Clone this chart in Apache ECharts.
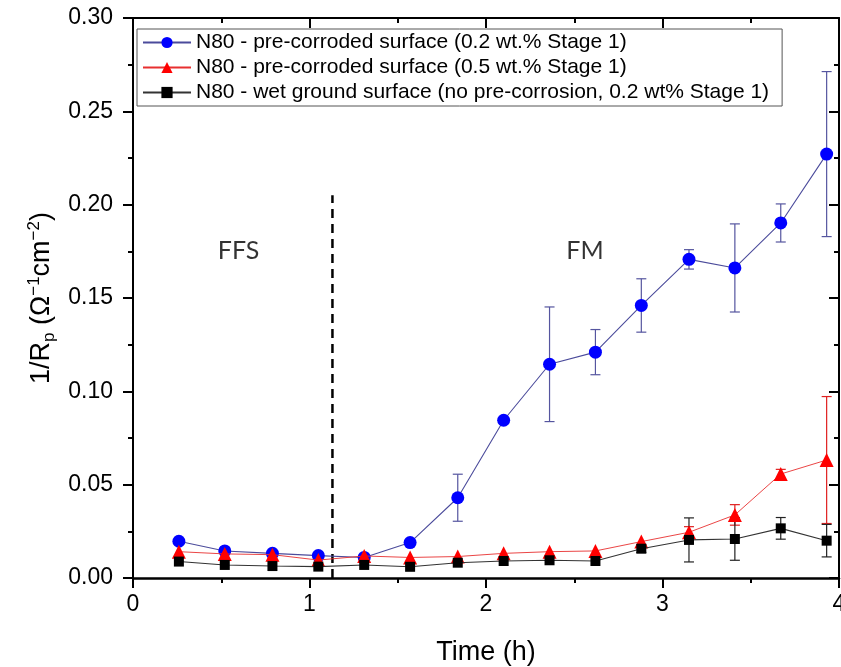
<!DOCTYPE html>
<html>
<head>
<meta charset="utf-8">
<script src="https://cdn.jsdelivr.net/npm/echarts@6/dist/echarts.min.js"></script>
<style>
  html, body { margin: 0; padding: 0; background: #fff; overflow: hidden; }
  #chart { width: 841px; height: 667px; }
</style>
</head>
<body>
<div id="chart"></div>
<script>
// Sampling times (h)
const timeH = [0.26, 0.52, 0.79, 1.05, 1.31, 1.57, 1.84, 2.10, 2.36, 2.62, 2.88, 3.15, 3.41, 3.67, 3.93];

// 1/Rp (ohm^-1 cm^-2) and standard deviations
const precorr02 = [0.0197, 0.0145, 0.0132, 0.0120, 0.0110, 0.0190, 0.0430, 0.0845, 0.1145, 0.1210, 0.1460, 0.1707, 0.1661, 0.1902, 0.2271];
const precorr02Err = [0, 0, 0, 0, 0, 0, 0.0126, 0, 0.0307, 0.0121, 0.0143, 0.0052, 0.0236, 0.0102, 0.0442];

const precorr05 = [0.0141, 0.0129, 0.0125, 0.0096, 0.0118, 0.0110, 0.0115, 0.0132, 0.0141, 0.0145, 0.0195, 0.0245, 0.0338, 0.0557, 0.0632];
const precorr05Err = [0, 0, 0, 0, 0, 0, 0, 0, 0, 0, 0, 0.0030, 0.0055, 0.0025, 0.0340];

const wetGround = [0.0088, 0.0070, 0.0064, 0.0061, 0.0070, 0.0060, 0.0082, 0.0091, 0.0095, 0.0091, 0.0157, 0.0204, 0.0209, 0.0266, 0.0200];
const wetGroundErr = [0, 0, 0, 0, 0, 0, 0, 0, 0, 0, 0.0020, 0.0118, 0.0114, 0.0058, 0.0087];

const seriesNames = [
  'N80 - pre-corroded surface (0.2 wt.% Stage 1)',
  'N80 - pre-corroded surface (0.5 wt.% Stage 1)',
  'N80 - wet ground surface (no pre-corrosion, 0.2 wt% Stage 1)'
];

// Stage boundary and stage labels
const stageBoundary = [[1.13, 0], [1.13, 0.205]];
const stageLabels = [
  { name: 'FFS', value: [0.598, 0.1752] },
  { name: 'FM', value: [2.561, 0.1752] }
];

const FONT = 'Liberation Sans, Arial, sans-serif';

function pairs(ys) { return timeH.map((t, i) => [t, ys[i]]); }

function errorBars(ys, errs, color, z) {
  const data = [];
  timeH.forEach((t, i) => { if (errs[i] > 0) data.push([t, ys[i], errs[i]]); });
  return {
    type: 'custom',
    z: z,
    silent: true,
    data: data,
    encode: { x: 0, y: 1 },
    renderItem: function (params, api) {
      const x = api.value(0), y = api.value(1), e = api.value(2);
      const hi = api.coord([x, y + e]);
      const lo = api.coord([x, y - e]);
      const w = 5;
      const st = { stroke: color, lineWidth: 1.2 };
      return {
        type: 'group',
        children: [
          { type: 'line', shape: { x1: hi[0], y1: hi[1], x2: lo[0], y2: lo[1] }, style: st },
          { type: 'line', shape: { x1: hi[0] - w, y1: hi[1], x2: hi[0] + w, y2: hi[1] }, style: st },
          { type: 'line', shape: { x1: lo[0] - w, y1: lo[1], x2: lo[0] + w, y2: lo[1] }, style: st }
        ]
      };
    }
  };
}

const axisCommonX = { type: 'value', min: 0, max: 4, interval: 1, splitNumber: 2, splitLine: { show: false } };
const axisCommonY = { type: 'value', min: 0, max: 0.3, interval: 0.05, splitLine: { show: false } };

const option = {
  animation: false,
  backgroundColor: '#fff',
  grid: { left: 133, right: 2, top: 18, bottom: 89, containLabel: false, outerBoundsMode: 'none' },
  legend: {
    data: seriesNames,
    orient: 'vertical',
    left: 137,
    top: 29,
    itemWidth: 48,
    itemHeight: 14,
    itemGap: 4,
    padding: [3, 13, 3, 5],
    borderColor: '#555',
    borderWidth: 1,
    backgroundColor: '#fff',
    textStyle: { fontFamily: FONT, fontSize: 21, color: '#000', lineHeight: 21 },
    selectedMode: false
  },
  xAxis: [
    Object.assign({}, axisCommonX, {
      position: 'bottom',
      name: 'Time (h)',
      nameLocation: 'middle',
      nameGap: 61,
      nameTextStyle: { fontFamily: FONT, fontSize: 27, color: '#000' },
      axisLine: { show: true, onZero: false, lineStyle: { color: '#000', width: 2.5 } },
      axisTick: { show: true, inside: false, length: 10, lineStyle: { color: '#000', width: 2 } },
      minorTick: { show: true, splitNumber: 2, length: 5, lineStyle: { color: '#000', width: 2 } },
      axisLabel: { fontFamily: FONT, fontSize: 23, color: '#000', margin: 15 }
    }),
    Object.assign({}, axisCommonX, {
      position: 'top',
      axisLine: { show: true, onZero: false, lineStyle: { color: '#000', width: 2 } },
      axisTick: { show: true, inside: true, length: 10, lineStyle: { color: '#000', width: 2 } },
      minorTick: { show: true, splitNumber: 2, length: 5, lineStyle: { color: '#000', width: 2 } },
      axisLabel: { show: false }
    })
  ],
  yAxis: [
    Object.assign({}, axisCommonY, {
      position: 'left',
      name: '1/R{sub|p} (Ω{sup|−1}cm{sup|−2})',
      nameLocation: 'middle',
      nameGap: 54,
      nameRotate: 90,
      nameTextStyle: {
        fontFamily: FONT, fontSize: 27, color: '#000', lineHeight: 32, verticalAlign: 'middle',
        rich: {
          sub: { fontFamily: FONT, fontSize: 17, color: '#000', verticalAlign: 'bottom', lineHeight: 32 },
          sup: { fontFamily: FONT, fontSize: 17, color: '#000', verticalAlign: 'top', lineHeight: 32 }
        }
      },
      axisLine: { show: true, onZero: false, lineStyle: { color: '#000', width: 2 } },
      axisTick: { show: true, inside: false, length: 10, lineStyle: { color: '#000', width: 2 } },
      minorTick: { show: true, splitNumber: 2, length: 5, lineStyle: { color: '#000', width: 2 } },
      axisLabel: { fontFamily: FONT, fontSize: 23, color: '#000', margin: 20, formatter: v => v.toFixed(2) }
    }),
    Object.assign({}, axisCommonY, {
      position: 'right',
      axisLine: { show: true, onZero: false, lineStyle: { color: '#000', width: 2 } },
      axisTick: { show: true, inside: true, length: 10, lineStyle: { color: '#000', width: 2 } },
      minorTick: { show: true, splitNumber: 2, length: 5, lineStyle: { color: '#000', width: 2 } },
      axisLabel: { show: false }
    })
  ],
  series: [
    errorBars(precorr02, precorr02Err, '#55559f', 1),
    errorBars(precorr05, precorr05Err, '#e02020', 1),
    errorBars(wetGround, wetGroundErr, '#222', 1),
    {
      type: 'line',
      silent: true,
      data: stageBoundary,
      symbol: 'none',
      z: 2,
      lineStyle: { color: '#000', width: 2.5, type: [9, 6] }
    },
    {
      type: 'scatter',
      silent: true,
      data: stageLabels,
      symbolSize: 0,
      z: 2,
      label: {
        show: true, position: 'inside', formatter: p => p.name,
        fontFamily: 'Lato, sans-serif', fontSize: 25, color: '#000'
      }
    },
    {
      name: seriesNames[0],
      type: 'line',
      data: pairs(precorr02),
      symbol: 'circle',
      symbolSize: 13,
      z: 3,
      itemStyle: { color: '#0000ff' },
      lineStyle: { color: '#4b4b9b', width: 1.1 }
    },
    {
      name: seriesNames[1],
      type: 'line',
      data: pairs(precorr05),
      symbol: 'triangle',
      symbolSize: 14,
      z: 4,
      itemStyle: { color: '#ff0000' },
      lineStyle: { color: '#e83030', width: 0.9 }
    },
    {
      name: seriesNames[2],
      type: 'line',
      data: pairs(wetGround),
      symbol: 'rect',
      symbolSize: 10,
      z: 5,
      itemStyle: { color: '#000' },
      lineStyle: { color: '#333', width: 1.1 }
    }
  ]
};

const chart = echarts.init(document.getElementById('chart'), null, { renderer: 'canvas' });
chart.setOption(option);
</script>
</body>
</html>
